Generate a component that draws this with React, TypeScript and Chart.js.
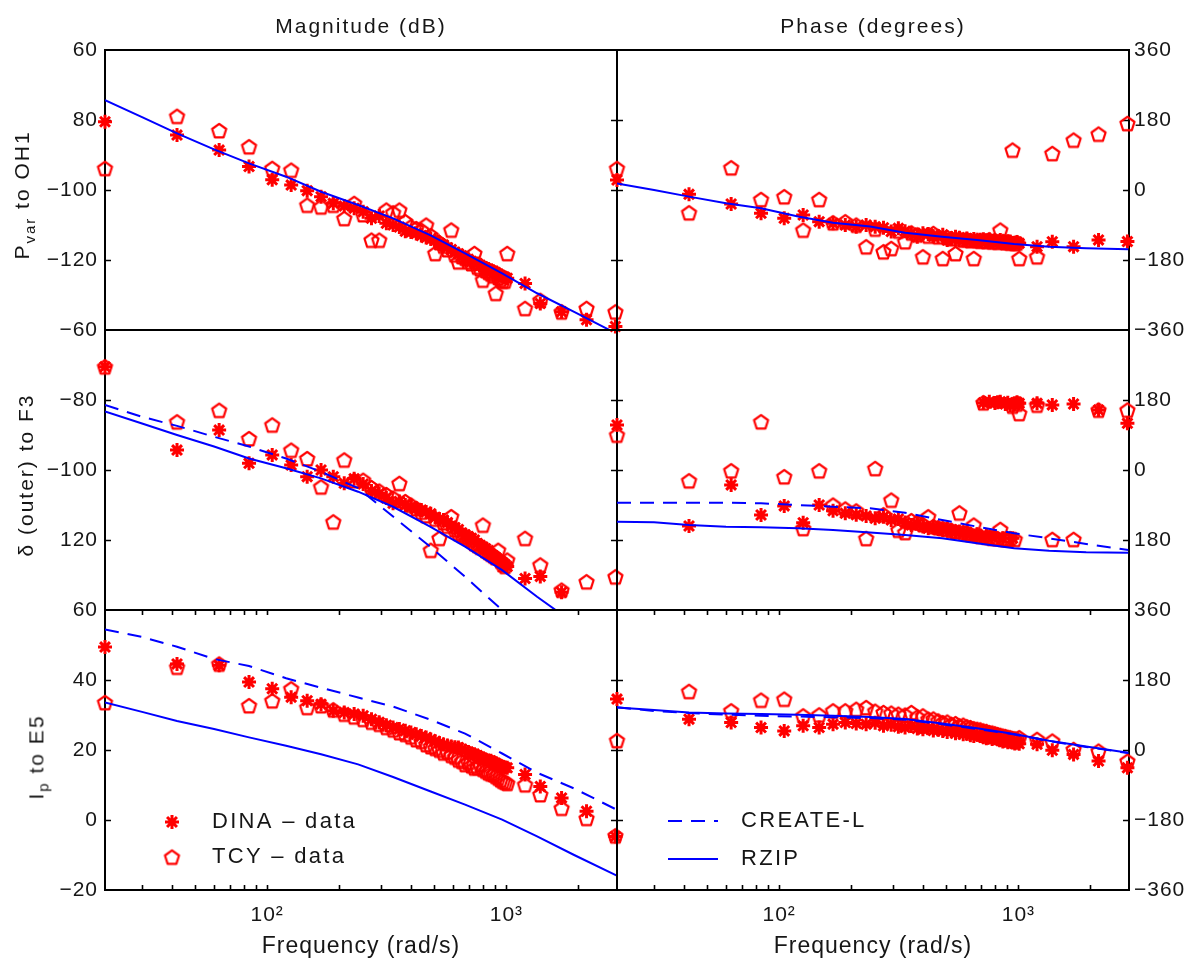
import React, { useEffect, useRef } from 'react';
import { Chart, registerables } from 'chart.js';
import { drawPoint } from 'chart.js/helpers';

Chart.register(...registerables);

const W = 1196;
const H = 967;
const FONT = '"Liberation Sans", Arial, Helvetica, sans-serif';
const RED = '#ff0000';
const BLUE = '#0000ff';
const INK = '#161616';

// ---------------- data ----------------
// measured frequencies (rad/s)
const freqs = [21, 42, 63, 84, 105, 126, 147, 168, 189, 210, 231, 252, 273, 294, 315, 336, 357, 378, 399, 420,
  441, 462, 483, 504, 525, 546, 567, 588, 609, 630, 651, 672, 693, 714, 735, 756, 777, 798, 819, 840,
  861, 882, 903, 924, 945, 966, 987, 1008, 1197, 1386, 1701, 2163, 2856];
// model curve frequencies (rad/s)
const modelFreqs = [21, 30, 42, 60, 84, 120, 168, 240, 336, 480, 672, 960, 1344, 1920, 2880];

// P_var to OH1 - magnitude (dB)
const tlMagDina = [-80.5, -84.3, -88.6, -93.3, -97.1, -98.6, -100.2, -101.9, -103.8, -104.6,
  -105.2, -106.2, -108.1, -107.4, -109.5, -110.0, -110.6, -111.8, -112.0, -112.4,
  -113.0, -113.6, -114.0, -114.3, -115.2, -115.7, -116.5, -117.0, -117.8, -118.2,
  -118.8, -119.5, -119.8, -120.4, -120.8, -121.0, -121.5, -121.9, -122.3, -122.6,
  -123.0, -123.2, -123.6, -124.0, -124.4, -124.8, -125.0, -125.2, -126.7, -132.4, -134.8, -137.1, -139.0];
const tlMagTcy = [-93.8, -78.9, -83.0, -87.6, -93.8, -94.3, -104.3, -104.8, -104.3, -108.1,
  -103.8, -107.0, -114.3, -114.3, -105.7, -106.5, -105.7, -109.0, -110.5, -111.0,
  -111.5, -110.0, -113.0, -118.1, -115.0, -116.0, -117.0, -111.4, -118.5, -120.5,
  -119.0, -119.5, -120.5, -121.0, -118.1, -122.0, -122.5, -125.7, -123.0, -123.5,
  -124.0, -124.5, -129.5, -125.0, -125.5, -126.0, -126.0, -118.1, -133.8, -131.5, -134.8, -133.8, -134.8];
const tlMagRzip = [-74.3, -79.2, -83.8, -88.4, -92.4, -96.2, -100.5, -104.3, -108.1, -112.9, -118.1, -123.8, -129.5, -134.8, -141.0];

// P_var to OH1 - phase (deg)
const trPhDina = [25.7, -11, -36, -60, -72.8, -64.3, -81.4, -85.7, -90, -94.3,
  -90, -94.3, -97, -107, -98.5, -106, -111, -119.9, -111, -113,
  -119, -120, -115, -128.5, -124, -120, -123, -128.5, -125, -130,
  -126, -132.6, -128, -126.5, -129, -127, -131, -129, -132, -128.5,
  -133, -135, -132, -132.6, -136, -137, -134, -137, -145.7, -133, -145.7, -128.5, -132.6];
const trPhTcy = [55.7, -58.3, 57.5, -24, -17, -102.8, -24, -84, -81.4, -90,
  -145.7, -100, -158.5, -150, -105, -132.6, -110, -115, -171.4, -118,
  -111.4, -120, -175.7, -122, -125, -163, -126, -128, -127, -130,
  -175.7, -129, -131, -130, -132, -128, -133, -131, -134, -102.8,
  -132, -135, -134, -136, 102.9, -137, -136, -175.7, -171.4, 94.3, 128.6, 144, 171.4];
const trPhRzip = [17, 0, -17, -34, -47, -68, -84, -94, -110, -120, -128.5, -139, -145.7, -150, -152.5];

// delta (outer) to F3 - magnitude (dB)
const mlMagDina = [-70.5, -94.3, -88.6, -98.1, -95.7, -98.6, -101.9, -100, -101.9, -103.8,
  -102.5, -104, -106, -106.7, -108, -109.5, -109, -110, -110.5, -111,
  -111.4, -112, -112.5, -113.5, -114, -114.3, -115, -116, -116.5, -117,
  -118, -118.5, -119, -119.5, -120, -121, -121.5, -122, -122.5, -123,
  -124, -124.5, -125, -125.7, -126, -126.5, -127, -127.6, -131, -130.4, -134.9, null, null];
const mlMagTcy = [-70.5, -86.2, -82.9, -91, -87.1, -94.3, -96.7, -104.8, -114.8, -97.1,
  -103, -102.9, -105, -106, -107, -108, -103.8, -109, -110, -111,
  -112, -113, -122.9, -114, -119.5, -115, -116, -113.3, -117, -118,
  -118.5, -119, -119.5, -120, -121, -121.5, -122, -115.7, -123, -123.5,
  -124, -124.5, -125, -122.9, -126, -127, -127.5, -125.7, -119.5, -127.1, -134.3, -131.9, -130.5];
const mlMagCreate = [-81.4, -84.8, -87.4, -90.5, -93.3, -96.7, -100.5, -105.2, -113.3, -121.9, -130.5, -140, -150, -165, -185];
const mlMagRzip = [-83.3, -86.7, -90, -93.3, -96.7, -99.5, -102.4, -106.2, -110.5, -116.2, -121.9, -128.6, -136.2, -143.8, -155];

// delta (outer) to F3 - phase (deg)
const mrPhDina = [115.7, -144, -38.5, -115.7, -92.5, -135.4, -90, -105, -111.4, -115,
  -118, -124.2, -120, -128.5, -126, -135, -141.4, -138, -145, -150,
  -148, -152, -154.3, -151, -156, -160, -158, -163, -161, -166,
  -169.6, -165, -172, 173.2, -170, 175.7, -173, 172, 174, 175.7,
  -175.7, 170, 173, 167.2, -175.7, 171.4, 174, 171.4, 171.4, 167.2, 169.7, 154.3, 120];
const mrPhTcy = [90, -27.4, -1.7, 124.3, -17, -150, -1.7, -90, -100, -105,
  -175.7, 4.3, -115, -77, -154.3, -160.3, -130, -135, -140, -120,
  -145, -148, -150, -152, -155, -158, -110, -160, -162, -165,
  -141.4, -167, -170, 173.2, -172, -172, -175, -174, -176, -152.5,
  -177, -178, -178, -176, 164.6, -178, 170, 145.7, 167.2, -178.2, -178.2, 154.3, 154.3];
const mrPhCreate = [-84, -84, -84, -84, -85.7, -90, -94.3, -98.6, -109.7, -128.5, -145.7, -162.8, -175.7, -190, -205.6];
const mrPhRzip = [-132.8, -134.5, -141.4, -145.7, -147.4, -150, -154.3, -161, -167, -175.7, -188.5, -201.4, -207.4, -211.6, -212.5];

// I_p to E5 - magnitude (dB)
const blMagDina = [49.4, 44.6, 44.2, 39.4, 37.5, 35.1, 34.1, 33.1, 31.2, 30.7,
  30.3, 29.8, 28.8, 27.9, 27.1, 26.4, 26, 25.5, 25, 24.5,
  24, 23.6, 23, 22.5, 22, 21.6, 21.3, 21, 20.8, 20.7,
  20.2, 19.8, 19.4, 19, 18.8, 18.4, 18, 17.6, 17.3, 17,
  16.9, 16.5, 16.2, 15.8, 15.5, 15.2, 15, 14.9, 13, 9.6, 6.3, 2.5, -4.7];
const blMagTcy = [33.6, 43.7, 44.6, 32.7, 34.1, 37.5, 32.2, 32.7, 31.5, 30.3,
  29.5, 28.8, 28, 27.4, 26.5, 25.8, 25, 24.5, 23.8, 23,
  22.5, 21.6, 21, 20.5, 20, 19.2, 19.5, 18.5, 18, 17.2,
  16.8, 15.9, 16.5, 15.5, 14.9, 15, 15.9, 14.5, 14, 13.5,
  13.2, 13, 12.5, 12, 11.5, 11.1, 10.8, 10.5, 10.1, 7.3, 3.4, 0.5, -4.5];
const blMagCreate = [54.4, 52.3, 49.5, 46, 44, 40.5, 37.8, 35, 32.4, 28.7, 24.7, 19, 13.5, 9, 3];
const blMagRzip = [33.6, 30.9, 28.3, 26, 23.6, 21.2, 18.8, 15.9, 12.3, 8.2, 4.4, 0.1, -4.7, -10, -15.8];

// I_p to E5 - phase (deg)
const brPhDina = [131.1, 79.3, 70.7, 57.8, 49.1, 62.1, 57.8, 66.4, 70.7, 68,
  66.4, 70, 62.1, 65, 60, 57.8, 62, 55, 53.5, 56,
  50, 52, 49.1, 46, 48, 43, 45, 40.5, 42, 38,
  36, 39, 36.2, 33, 30, 32, 28, 30, 27.6, 25,
  22, 24, 20, 22, 19, 17, 18.9, 16, 14.6, -0.9, -11.3, -28.5, -45.8];
const brPhTcy = [24.9, 151, 101, 128.5, 131.1, 88, 90.5, 101, 101, 105,
  109.5, 100, 96.6, 95, 92.3, 90, 96.6, 85, 88, 79.3,
  80, 75, 70.7, 72, 66, 68, 62.1, 64, 60, 58,
  55, 53.5, 52, 49.1, 48, 45, 44, 42, 40, 38,
  36, 35, 33, 31.9, 30, 29, 28, 31.9, 27.6, 23.3, 1.7, -2.6, -28.5];
const brPhCreate = [110, 100, 95, 91, 88, 86, 84, 82, 78, 66, 54, 40, 23, 8, -8];
const brPhRzip = [109.5, 103, 96.5, 94, 92.3, 90.5, 88, 85, 80, 68, 56, 41, 24, 9, -7];

// axes
const xMin = 21;
const xMax = 2900;
const xMinorTicks = [30, 40, 50, 60, 70, 80, 90, 100, 200, 300, 400, 500, 600, 700, 800, 900, 1000, 2000];
const xLabelValues = [100, 1000];
const xLabelTexts = ['10\u00B2', '10\u00B3'];
const magTickValues = [-140, -120, -100, -80, -60];
const tlTickLabels = ['\u221260', '\u2212120', '\u2212100', '80', '60'];
const mlTickLabels = ['', '120', '\u2212100', '\u221280', ''];
const blTickValues = [-20, 0, 20, 40, 60];
const blTickLabels = ['\u221220', '0', '20', '40', '60'];
const phaseTickValues = [-360, -180, 0, 180, 360];
const trTickLabels = ['\u2212360', '\u2212180', '0', '180', '360'];
const mrTickLabels = ['', '180', '0', '180', ''];
const brTickLabels = ['\u2212360', '\u2212180', '0', '180', '360'];

const DINA_LABEL = 'DINA \u2013 data';
const TCY_LABEL = 'TCY \u2013 data';
const CREATE_LABEL = 'CREATE-L';
const RZIP_LABEL = 'RZIP';

// ---------------- layout ----------------
const COL_L = [105, 617];
const COL_R = [617, 1129];
const ROW_T = [50, 330, 610];
const ROW_B = [330, 610, 890];

type PanelDef = {
  col: number;
  row: number;
  yMin: number;
  yMax: number;
  yTicks: number[];
  yLabels: string[];
  dina: (number | null)[];
  tcy: (number | null)[];
  rzip: number[];
  create?: number[];
  legend?: 'markers' | 'lines';
};

const panels: PanelDef[] = [
  { col: 0, row: 0, yMin: -140, yMax: -60, yTicks: magTickValues, yLabels: tlTickLabels, dina: tlMagDina, tcy: tlMagTcy, rzip: tlMagRzip },
  { col: 1, row: 0, yMin: -360, yMax: 360, yTicks: phaseTickValues, yLabels: trTickLabels, dina: trPhDina, tcy: trPhTcy, rzip: trPhRzip },
  { col: 0, row: 1, yMin: -140, yMax: -60, yTicks: magTickValues, yLabels: mlTickLabels, dina: mlMagDina, tcy: mlMagTcy, rzip: mlMagRzip, create: mlMagCreate },
  { col: 1, row: 1, yMin: -360, yMax: 360, yTicks: phaseTickValues, yLabels: mrTickLabels, dina: mrPhDina, tcy: mrPhTcy, rzip: mrPhRzip, create: mrPhCreate },
  { col: 0, row: 2, yMin: -20, yMax: 60, yTicks: blTickValues, yLabels: blTickLabels, dina: blMagDina, tcy: blMagTcy, rzip: blMagRzip, create: blMagCreate, legend: 'markers' },
  { col: 1, row: 2, yMin: -360, yMax: 360, yTicks: phaseTickValues, yLabels: brTickLabels, dina: brPhDina, tcy: brPhTcy, rzip: brPhRzip, create: brPhCreate, legend: 'lines' },
];

function makeTcyMarker(): HTMLCanvasElement {
  const c = document.createElement('canvas');
  c.width = 19;
  c.height = 19;
  const g = c.getContext('2d')!;
  g.strokeStyle = RED;
  g.lineWidth = 2.2;
  g.lineJoin = 'round';
  g.beginPath();
  for (let i = 0; i < 5; i++) {
    const a = -Math.PI / 2 + (i * 2 * Math.PI) / 5;
    const px = 9.5 + 7.4 * Math.cos(a);
    const py = 10.3 + 7.4 * Math.sin(a);
    if (i === 0) g.moveTo(px, py);
    else g.lineTo(px, py);
  }
  g.closePath();
  g.stroke();
  return c;
}

const spacingPlugin = {
  id: 'letterSpacing',
  beforeUpdate(chart: any) {
    chart.ctx.letterSpacing = '1px';
  },
  beforeDraw(chart: any) {
    chart.ctx.letterSpacing = '1px';
  },
};

const framePlugin = {
  id: 'panelFrame',
  beforeDatasetsDraw(chart: any, _args: any, opts: any) {
    const { ctx, chartArea: a, scales } = chart;
    ctx.save();
    ctx.strokeStyle = '#000';
    ctx.lineWidth = 1.6;
    ctx.beginPath();
    for (const v of opts.yTicks || []) {
      if (v <= scales.y.min || v >= scales.y.max) continue;
      const py = Math.round(scales.y.getPixelForValue(v)) + 0.5;
      ctx.moveTo(a.left, py);
      ctx.lineTo(a.left + 6, py);
      ctx.moveTo(a.right, py);
      ctx.lineTo(a.right - 6, py);
    }
    for (const v of opts.xTicks || []) {
      const px = Math.round(scales.x.getPixelForValue(v)) + 0.5;
      ctx.moveTo(px, a.top);
      ctx.lineTo(px, a.top + 5);
      ctx.moveTo(px, a.bottom);
      ctx.lineTo(px, a.bottom - 5);
    }
    ctx.stroke();
    ctx.lineWidth = 2;
    ctx.strokeRect(a.left, a.top, a.right - a.left, a.bottom - a.top);
    ctx.restore();
  },
};

const legendPlugin = {
  id: 'panelLegend',
  afterDraw(chart: any, _args: any, opts: any) {
    if (!opts || !opts.items || !opts.items.length) return;
    const { ctx, chartArea: a } = chart;
    ctx.save();
    ctx.font = `22px ${FONT}`;
    ctx.letterSpacing = '2.3px';
    ctx.textBaseline = 'middle';
    ctx.textAlign = 'left';
    opts.items.forEach((label: string, i: number) => {
      const ds = chart.data.datasets.find((d: any) => d.label === label);
      if (!ds) return;
      const y = a.top + opts.rowY[i];
      if (opts.kind === 'lines') {
        ctx.strokeStyle = ds.borderColor;
        ctx.lineWidth = ds.borderWidth;
        ctx.setLineDash(ds.borderDash || []);
        ctx.beginPath();
        ctx.moveTo(a.left + opts.lineX0, y);
        ctx.lineTo(a.left + opts.lineX1, y);
        ctx.stroke();
        ctx.setLineDash([]);
      } else {
        ctx.strokeStyle = ds.borderColor;
        ctx.fillStyle = ds.backgroundColor;
        ctx.lineWidth = ds.pointBorderWidth;
        drawPoint(ctx, { pointStyle: ds.pointStyle, rotation: 0, radius: ds.pointRadius, borderWidth: ds.pointBorderWidth } as any, a.left + opts.markerX, y);
      }
      ctx.fillStyle = INK;
      ctx.fillText(label, a.left + opts.textX, y);
    });
    ctx.restore();
  },
};

function buildConfig(p: PanelDef, tcyMarker: HTMLCanvasElement): any {
  const left = COL_L[p.col];
  const right = COL_R[p.col];
  const top = ROW_T[p.row];
  const bottom = ROW_B[p.row];
  const isBottom = p.row === 2;
  const yAxisW = p.col === 0 ? 70 : 60;
  const xAxisH = 70;
  const padding = {
    left: p.col === 0 ? left - yAxisW : left,
    right: p.col === 0 ? W - right : W - right - yAxisW,
    top,
    bottom: isBottom ? H - bottom - xAxisH : H - bottom,
  };

  const datasets: any[] = [];
  datasets.push({
    label: RZIP_LABEL,
    data: modelFreqs.map((f, i) => ({ x: f, y: p.rzip[i] })),
    showLine: true,
    borderColor: BLUE,
    backgroundColor: BLUE,
    borderWidth: 2,
    pointRadius: 0,
    clip: 0,
  });
  if (p.create) {
    datasets.push({
      label: CREATE_LABEL,
      data: modelFreqs.map((f, i) => ({ x: f, y: p.create![i] })),
      showLine: true,
      borderColor: BLUE,
      backgroundColor: BLUE,
      borderWidth: 2,
      borderDash: [14, 9],
      pointRadius: 0,
      clip: 0,
    });
  }
  datasets.push({
    label: DINA_LABEL,
    data: freqs.map((f, i) => ({ x: f, y: p.dina[i] })),
    showLine: false,
    pointStyle: 'star',
    pointRadius: 7,
    pointBorderWidth: 3,
    borderColor: RED,
    backgroundColor: RED,
    clip: false,
  });
  datasets.push({
    label: TCY_LABEL,
    data: freqs.map((f, i) => ({ x: f, y: p.tcy[i] })),
    showLine: false,
    pointStyle: tcyMarker,
    pointRadius: 7,
    pointBorderWidth: 2,
    borderColor: RED,
    backgroundColor: RED,
    clip: false,
  });

  let legendOpts: any = { items: [] };
  if (p.legend === 'markers') {
    legendOpts = { kind: 'markers', items: [DINA_LABEL, TCY_LABEL], rowY: [212, 247], markerX: 67, textX: 107 };
  } else if (p.legend === 'lines') {
    legendOpts = { kind: 'lines', items: [CREATE_LABEL, RZIP_LABEL], rowY: [211, 249], lineX0: 51, lineX1: 101, textX: 124 };
  }

  return {
    type: 'scatter',
    data: { datasets },
    options: {
      animation: false,
      responsive: false,
      maintainAspectRatio: false,
      events: [],
      layout: { padding },
      plugins: {
        legend: { display: false },
        tooltip: { enabled: false },
        panelFrame: { yTicks: p.yTicks, xTicks: isBottom ? xMinorTicks : [] },
        panelLegend: legendOpts,
      },
      scales: {
        x: {
          type: 'logarithmic',
          min: xMin,
          max: xMax,
          display: isBottom,
          position: 'bottom',
          grid: { display: false, drawTicks: false },
          border: { display: false },
          afterBuildTicks: (s: any) => {
            s.ticks = xLabelValues.map((v) => ({ value: v }));
          },
          ticks: {
            autoSkip: false,
            maxRotation: 0,
            padding: 13,
            color: INK,
            font: { family: FONT, size: 21 },
            callback: (v: any) => {
              const i = xLabelValues.indexOf(Number(v));
              return i >= 0 ? xLabelTexts[i] : '';
            },
          },
          title: {
            display: isBottom,
            text: 'Frequency (rad/s)',
            color: INK,
            font: { family: FONT, size: 23 },
            padding: 0,
          },
          afterFit: (s: any) => {
            if (isBottom) s.height = xAxisH;
            s.paddingLeft = 0;
            s.paddingRight = 0;
          },
        },
        y: {
          type: 'linear',
          min: p.yMin,
          max: p.yMax,
          position: p.col === 0 ? 'left' : 'right',
          grid: { display: false, drawTicks: false },
          border: { display: false },
          afterBuildTicks: (s: any) => {
            s.ticks = p.yTicks.map((v) => ({ value: v }));
          },
          ticks: {
            autoSkip: false,
            padding: p.col === 0 ? 7 : 5,
            color: INK,
            font: { family: FONT, size: 21 },
            callback: (v: any) => {
              const i = p.yTicks.indexOf(Number(v));
              return i >= 0 ? p.yLabels[i] : '';
            },
          },
          afterFit: (s: any) => {
            s.width = yAxisW;
            s.paddingTop = 0;
            s.paddingBottom = 0;
          },
        },
      },
    },
    plugins: [spacingPlugin, framePlugin, legendPlugin],
  };
}

function PanelCanvas({ def }: { def: PanelDef }) {
  const ref = useRef<HTMLCanvasElement | null>(null);
  useEffect(() => {
    if (!ref.current) return;
    const chart = new Chart(ref.current, buildConfig(def, makeTcyMarker()));
    return () => chart.destroy();
  }, [def]);
  return (
    <canvas
      ref={ref}
      width={W}
      height={H}
      style={{ position: 'absolute', left: 0, top: 0, width: W, height: H }}
    />
  );
}

const textBase: React.CSSProperties = {
  position: 'absolute',
  fontFamily: FONT,
  fontSize: 21,
  letterSpacing: '2px',
  color: INK,
  whiteSpace: 'nowrap',
  lineHeight: 1,
};

function Centered({ x, y, rotate, children }: { x: number; y: number; rotate?: boolean; children: React.ReactNode }) {
  return (
    <div
      style={{
        ...textBase,
        left: x,
        top: y,
        transform: `translate(-50%, -50%)${rotate ? ' rotate(-90deg)' : ''}`,
      }}
    >
      {children}
    </div>
  );
}

export default function App() {
  return (
    <div style={{ position: 'absolute', left: 0, top: 0, width: W, height: H, background: '#fff', overflow: 'hidden' }}>
      {panels.map((p, i) => (
        <PanelCanvas key={i} def={p} />
      ))}
      <Centered x={361} y={25}>Magnitude (dB)</Centered>
      <Centered x={873} y={25}>Phase (degrees)</Centered>
      <Centered x={24} y={195} rotate>
        P<sub style={{ fontSize: 15 }}>var</sub> to OH1
      </Centered>
      <Centered x={25} y={475} rotate>
        δ (outer) to F3
      </Centered>
      <Centered x={38} y={757} rotate>
        I<sub style={{ fontSize: 15 }}>p</sub> to E5
      </Centered>
    </div>
  );
}
